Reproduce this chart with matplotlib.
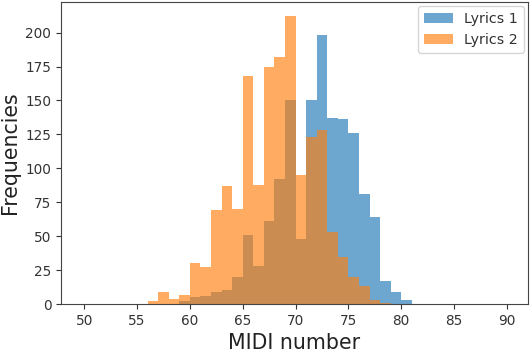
import numpy as np
import matplotlib
matplotlib.use("Agg")
import matplotlib.pyplot as plt

# bin edges (one MIDI note per bin)
bordes = np.arange(56, 82)

# counts per bin (bins 56..80)
lyrics1 = [0, 0, 0, 2, 5, 6, 9, 10, 20, 51, 28, 61, 92, 150, 48,
           150, 198, 137, 136, 126, 81, 64, 17, 9, 3]
lyrics2 = [2, 9, 4, 7, 30, 27, 69, 87, 70, 168, 88, 175, 182, 212, 95,
           123, 128, 53, 35, 20, 13, 3, 1, 0, 0]

fig = plt.figure(figsize=(5.3, 3.52), dpi=100)
ax = fig.add_subplot(111)
fig.subplots_adjust(left=61 / 530, right=528 / 530, top=1 - 2 / 352, bottom=1 - 304 / 352)

ax.hist(bordes[:-1], bins=bordes, weights=lyrics1, alpha=0.65, label="Lyrics 1")
ax.hist(bordes[:-1], bins=bordes, weights=lyrics2, alpha=0.65, label="Lyrics 2")

ax.set_xlim(47.8, 92)
ax.set_xticks(range(50, 91, 5))
ax.set_yticks(range(0, 201, 25))
ax.tick_params(labelsize=9.8, colors="#333333")
for s in ax.spines.values():
    s.set_color("#444444")
ax.set_xlabel("MIDI number", fontsize=14.8, color="#222222")
ax.set_ylabel("Frequencies", fontsize=14.8, color="#222222")
leg = ax.legend(loc="upper right", fontsize=10.3, borderaxespad=0.3)
for t in leg.get_texts():
    t.set_color("#333333")

fig.savefig("out.png", dpi=100)
